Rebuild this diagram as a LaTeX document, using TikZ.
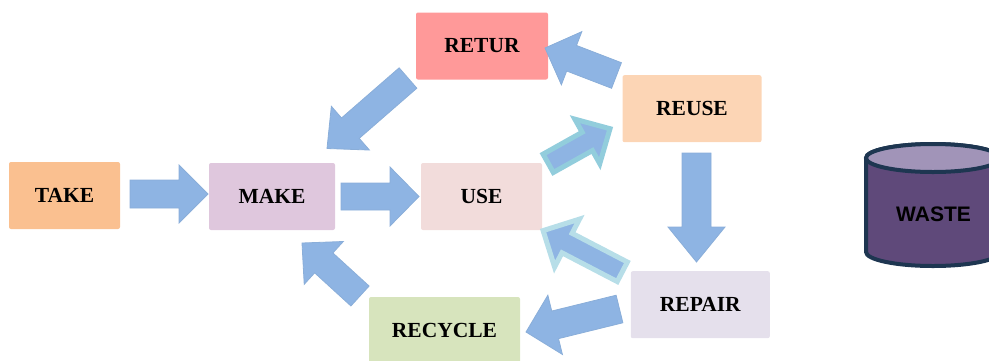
\documentclass[tikz,border=0pt]{standalone}
\usepackage{fontspec}
\setmainfont{Liberation Serif}
\setsansfont{Liberation Sans}
\usetikzlibrary{calc}

\definecolor{arrowfill}{HTML}{8EB4E3}
\definecolor{arrowline}{HTML}{8AAED9}
\definecolor{tealline}{HTML}{92CDDC}
\definecolor{lightline}{HTML}{B7DEE8}
\definecolor{takecol}{HTML}{FAC090}
\definecolor{makecol}{HTML}{DFC7DD}
\definecolor{usecol}{HTML}{F2DCDB}
\definecolor{returcol}{HTML}{FF9999}
\definecolor{reusecol}{HTML}{FCD5B5}
\definecolor{repaircol}{HTML}{E5E0EC}
\definecolor{recyclecol}{HTML}{D7E4BD}
\definecolor{wastebody}{HTML}{5F497A}
\definecolor{wastetop}{HTML}{A194B8}
\definecolor{wasteline}{HTML}{1E3651}

% block arrow: [style]{tail}{tip}{shaft half-width}{head half-width}{head length}
\newcommand\barrow[6][]{%
  \coordinate (bah) at ($(#3)!#6!(#2)$);
  \draw[arrowbody,#1]
    ($(#2)!#4!90:(#3)$) -- ($(bah)!#4!90:(#3)$) -- ($(bah)!#5!90:(#3)$) --
    (#3) --
    ($(bah)!#5!-90:(#3)$) -- ($(bah)!#4!-90:(#3)$) -- ($(#2)!#4!-90:(#3)$) -- cycle;
}

\begin{document}
\begin{tikzpicture}[x=1pt,y=-1pt,
  box/.style={rectangle, rounded corners=2pt, inner sep=0pt,
    minimum height=67pt, text=black,
    font=\fontsize{21.5}{25}\selectfont\bfseries},
  arrowbody/.style={fill=arrowfill, draw=arrowline, line width=0.8pt, line join=miter},
  tealarrow/.style={draw=tealline, line width=5pt},
  lightarrow/.style={draw=lightline, line width=5pt},
  wastetext/.style={text=black, font=\sffamily\fontsize{21}{25}\selectfont\bfseries}
]
\useasboundingbox (0,0) rectangle (989,360);
\clip (0,0) rectangle (989,360);

% boxes
\node[box, fill=takecol, minimum width=111pt] (take) at (64.5,195.5) {TAKE};
\node[box, fill=makecol, minimum width=126pt] (make) at (272,196.5) {MAKE};
\node[box, fill=usecol, minimum width=121pt] (use) at (481.5,196.5) {USE};
\node[box, fill=returcol, minimum width=132pt] (retur) at (482,46) {RETUR};
\node[box, fill=reusecol, minimum width=139pt] (reuse) at (692,108.7) {REUSE};
\node[box, fill=repaircol, minimum width=139pt] (repair) at (700.3,304.7) {REPAIR};
\node[box, fill=recyclecol, minimum width=151pt] (recycle) at (444.5,330.5) {RECYCLE};

% waste cylinder
\filldraw[fill=wastebody, draw=wasteline, line width=4pt]
  (866,158) -- (866,252) arc[start angle=180, end angle=0, x radius=67, y radius=14]
  -- (1000,158) arc[start angle=0, end angle=-180, x radius=67, y radius=14] -- cycle;
\filldraw[fill=wastetop, draw=wasteline, line width=4pt]
  (933,158) ellipse[x radius=67, y radius=14];
\node[wastetext] (waste) at (933.5,214) {WASTE};

% arrow end points
\coordinate (takeout) at (130,194);     \coordinate (makein) at (208,194);
\coordinate (makeout) at (341,196.5);   \coordinate (usein) at (419,196.5);
\coordinate (returout) at (408,78);     \coordinate (makein2) at (327,148.5);
\coordinate (recycleout) at (360,296);  \coordinate (makein3) at (302,243);
\coordinate (useout) at (548.2,163.3);  \coordinate (reusein) at (610,128.7);
\coordinate (reuseout) at (616.5,75.5); \coordinate (returin) at (545,48);
\coordinate (reuseout2) at (696.5,153); \coordinate (repairin) at (696.5,262);
\coordinate (repairout) at (622.3,271.8); \coordinate (usein2) at (543.1,230.6);
\coordinate (repairout2) at (619.5,309); \coordinate (recyclein) at (526,332);

% arrows
\barrow{takeout}{makein}{14pt}{29pt}{29pt}
\barrow{makeout}{usein}{13.5pt}{29.5pt}{29pt}
\barrow{returout}{makein2}{13.5pt}{29pt}{31pt}
\barrow{recycleout}{makein3}{13.5pt}{29pt}{29.5pt}
\barrow[tealarrow]{useout}{reusein}{10.5pt}{25.5pt}{26pt}
\barrow{reuseout}{returin}{13.7pt}{28.5pt}{28.5pt}
\barrow{reuseout2}{repairin}{14.5pt}{28.5pt}{35pt}
\barrow[lightarrow]{repairout}{usein2}{11pt}{27pt}{27pt}
\barrow{repairout2}{recyclein}{14.2pt}{30.5pt}{30pt}
\end{tikzpicture}
\end{document}
